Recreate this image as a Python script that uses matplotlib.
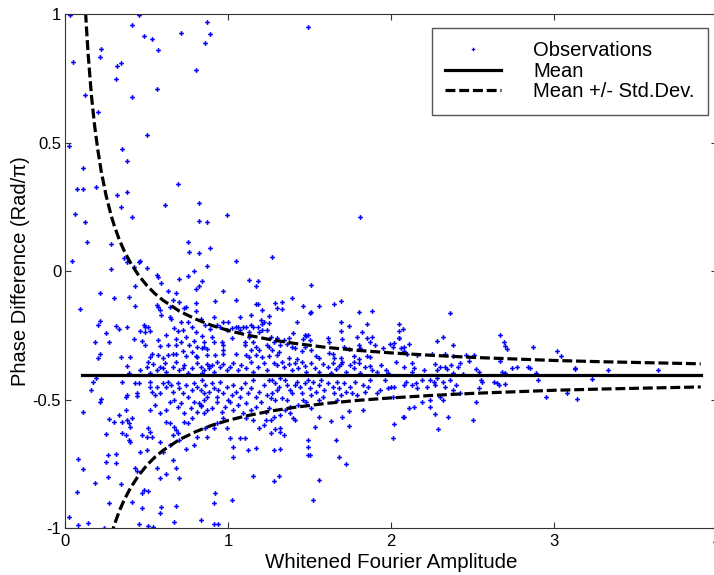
import numpy as np
import matplotlib
matplotlib.use('Agg')
import matplotlib.pyplot as plt

plt.rcParams['font.family'] = ['Liberation Sans', 'DejaVu Sans']
plt.rcParams['axes.unicode_minus'] = False

# observations (amplitude, phase difference in rad/pi)
obs_top = [
    (0.03, 0.997), (0.05, 0.816), (0.12, 0.687), (0.02, 0.488), (0.11, 0.40), (0.07, 0.319),
    (0.11, 0.321), (0.06, 0.222), (0.12, 0.192), (0.13, 0.114), (0.04, 0.041), (0.20, 0.621),
    (0.19, 0.329), (0.22, 0.866), (0.21, 0.833), (0.31, 0.749), (0.32, 0.80), (0.34, 0.812),
    (0.41, 0.96), (0.45, 0.996), (0.48, 0.917), (0.53, 0.905), (0.57, 0.861), (0.41, 0.679),
    (0.56, 0.708), (0.50, 0.532), (0.71, 0.927), (0.80, 0.782), (0.87, 0.97), (0.89, 0.925),
    (0.86, 0.89), (0.35, 0.477), (0.38, 0.43), (0.32, 0.297), (0.38, 0.31), (0.34, 0.251),
    (0.41, 0.21), (0.28, 0.106), (0.28, 0.008), (0.36, 0.052), (0.38, 0.037), (0.42, 0.018),
    (0.45, 0.035), (0.46, 0.041), (0.50, 0.012), (0.61, 0.259), (0.69, 0.339), (0.82, 0.265),
    (0.82, 0.196), (0.87, 0.191), (0.75, 0.113), (0.76, 0.074), (0.82, 0.07), (0.89, 0.09),
    (0.99, 0.22), (1.05, 0.039), (0.87, 0.019), (0.79, 0.0), (0.75, -0.02), (0.70, -0.03),
    (0.56, -0.015), (0.57, -0.023), (0.59, -0.044), (0.43, -0.057), (0.84, -0.038), (0.82, -0.057),
    (1.49, 0.949), (1.81, 0.21), (1.27, 0.057), (1.51, -0.052), (2.36, -0.161),
]

obs_left_upper = [
    (1.13, -0.032), (1.18, -0.037), (1.17, -0.059), (0.21, -0.086), (0.30, -0.102), (0.39, -0.099),
    (0.43, -0.135), (0.09, -0.147), (0.56, -0.131), (0.57, -0.14), (0.58, -0.151), (0.59, -0.17),
    (0.63, -0.077), (0.68, -0.083), (0.66, -0.112), (0.64, -0.138), (0.70, -0.118), (0.74, -0.138),
    (0.73, -0.144), (0.80, -0.122), (0.80, -0.153), (0.80, -0.068), (0.92, -0.115), (0.97, -0.077),
    (1.05, -0.112), (1.07, -0.177), (1.14, -0.17), (1.17, -0.126), (1.18, -0.126), (1.21, -0.151),
    (1.25, -0.173), (0.21, -0.194), (0.20, -0.208), (0.25, -0.242), (0.31, -0.213), (0.33, -0.224),
    (0.38, -0.216), (0.48, -0.209), (0.49, -0.216), (0.51, -0.216), (0.46, -0.233), (0.49, -0.235),
    (0.52, -0.234), (0.18, -0.274), (0.27, -0.277), (0.42, -0.264), (0.47, -0.27), (0.49, -0.288),
    (0.57, -0.269), (0.58, -0.291), (0.62, -0.246), (0.63, -0.285), (0.64, -0.177), (0.65, -0.187),
    (0.67, -0.22), (0.68, -0.265), (0.68, -0.287), (0.69, -0.233), (0.71, -0.196), (0.72, -0.229),
    (0.71, -0.274), (0.74, -0.255), (0.75, -0.199), (0.76, -0.285), (0.78, -0.216), (0.79, -0.272),
    (0.80, -0.235), (0.81, -0.294), (0.83, -0.185), (0.84, -0.251), (0.85, -0.294), (0.85, -0.274),
    (0.86, -0.209), (0.87, -0.301), (0.89, -0.226), (0.90, -0.255), (0.91, -0.179), (0.91, -0.274),
    (0.93, -0.209), (0.95, -0.216), (0.97, -0.196), (0.96, -0.274), (0.97, -0.285), (0.99, -0.229),
    (1.00, -0.199), (1.02, -0.261), (1.02, -0.222), (1.05, -0.216), (1.06, -0.216), (1.07, -0.229),
    (1.09, -0.216), (1.10, -0.274), (1.10, -0.287), (1.11, -0.216), (1.13, -0.235), (1.13, -0.255),
    (1.14, -0.209), (1.15, -0.218), (1.15, -0.274), (1.17, -0.294), (1.18, -0.216), (1.19, -0.235),
    (1.20, -0.19), (1.21, -0.207), (1.21, -0.229), (1.22, -0.198), (1.24, -0.229), (1.24, -0.287),
    (1.25, -0.294), (1.25, -0.203), (0.21, -0.32), (0.20, -0.339), (0.34, -0.333), (0.40, -0.333),
    (0.52, -0.333), (0.53, -0.323), (0.57, -0.326), (0.60, -0.339), (0.63, -0.326), (0.66, -0.32),
    (0.68, -0.323), (0.72, -0.31), (0.74, -0.33), (0.78, -0.313), (0.80, -0.329), (0.81, -0.333),
    (0.84, -0.30), (0.87, -0.327), (0.92, -0.325), (0.97, -0.307), (0.97, -0.323), (1.05, -0.32),
    (1.11, -0.326), (1.13, -0.333), (1.14, -0.307), (1.17, -0.326), (1.19, -0.307), (1.21, -0.333),
    (1.25, -0.33),
]

obs_left_lower = [
    (0.38, -0.368), (0.39, -0.397), (0.50, -0.374), (0.51, -0.351), (0.54, -0.361), (0.56, -0.384),
    (0.58, -0.371), (0.61, -0.355), (0.62, -0.39), (0.66, -0.371), (0.68, -0.351), (0.70, -0.384),
    (0.73, -0.364), (0.75, -0.394), (0.78, -0.377), (0.81, -0.358), (0.83, -0.374), (0.84, -0.397),
    (0.87, -0.361), (0.88, -0.377), (0.91, -0.39), (0.93, -0.351), (0.95, -0.371), (0.97, -0.361),
    (0.99, -0.384), (1.01, -0.374), (1.03, -0.355), (1.06, -0.384), (1.08, -0.364), (1.11, -0.377),
    (1.14, -0.351), (1.15, -0.39), (1.18, -0.371), (1.22, -0.358), (1.24, -0.384), (0.88, -0.368),
    (0.90, -0.364), (0.85, -0.384), (0.72, -0.377), (0.60, -0.377), (0.52, -0.397), (0.46, -0.384),
    (0.17, -0.429), (0.16, -0.462), (0.19, -0.416), (0.35, -0.429), (0.43, -0.436), (0.45, -0.433),
    (0.37, -0.49), (0.38, -0.481), (0.44, -0.475), (0.44, -0.485), (0.21, -0.507), (0.22, -0.498),
    (0.52, -0.429), (0.52, -0.449), (0.53, -0.468), (0.56, -0.449), (0.58, -0.475), (0.55, -0.481),
    (0.60, -0.436), (0.62, -0.449), (0.63, -0.429), (0.65, -0.442), (0.66, -0.468), (0.69, -0.436),
    (0.70, -0.455), (0.72, -0.475), (0.74, -0.442), (0.75, -0.488), (0.78, -0.462), (0.79, -0.436),
    (0.81, -0.449), (0.83, -0.462), (0.84, -0.423), (0.85, -0.475), (0.86, -0.442), (0.87, -0.488),
    (0.88, -0.468), (0.90, -0.436), (0.91, -0.455), (0.93, -0.488), (0.94, -0.462), (0.95, -0.429),
    (0.97, -0.475), (0.99, -0.449), (1.00, -0.501), (1.02, -0.481), (1.03, -0.442), (1.05, -0.468),
    (1.07, -0.488), (1.08, -0.455), (1.10, -0.436), (1.12, -0.475), (1.14, -0.455), (1.15, -0.423),
    (1.17, -0.488), (1.19, -0.468), (1.22, -0.442), (1.24, -0.481), (1.25, -0.423), (0.52, -0.54),
    (0.55, -0.52), (0.58, -0.553), (0.62, -0.54), (0.64, -0.507), (0.67, -0.501), (0.69, -0.527),
    (0.71, -0.514), (0.73, -0.553), (0.77, -0.533), (0.79, -0.507), (0.81, -0.546), (0.83, -0.52),
    (0.85, -0.501), (0.87, -0.54), (0.90, -0.533), (0.93, -0.507), (0.96, -0.546), (0.98, -0.527),
    (1.01, -0.507), (1.03, -0.54), (1.06, -0.52), (1.09, -0.553), (1.11, -0.514), (1.14, -0.54),
    (1.17, -0.527), (1.20, -0.507), (1.23, -0.546), (1.25, -0.533), (0.82, -0.514), (0.83, -0.524),
    (0.85, -0.553), (0.11, -0.549), (0.27, -0.575), (0.30, -0.585), (0.33, -0.559), (0.35, -0.585),
    (0.37, -0.54), (0.38, -0.578), (0.39, -0.591), (0.40, -0.604), (0.41, -0.572), (0.35, -0.63),
    (0.37, -0.637), (0.39, -0.656), (0.40, -0.663), (0.25, -0.633), (0.47, -0.637), (0.51, -0.611),
    (0.52, -0.624), (0.50, -0.643), (0.53, -0.643), (0.62, -0.585), (0.64, -0.591), (0.67, -0.604),
    (0.68, -0.617), (0.66, -0.637), (0.69, -0.63), (0.73, -0.585), (0.75, -0.591), (0.78, -0.572),
    (0.79, -0.676), (0.81, -0.643), (0.86, -0.611), (0.87, -0.643), (0.91, -0.611), (0.93, -0.591),
    (0.97, -0.572), (0.99, -0.611), (1.01, -0.65), (1.03, -0.682), (1.03, -0.721), (1.07, -0.65),
    (1.10, -0.65), (1.12, -0.695), (1.17, -0.689), (1.19, -0.611), (1.22, -0.598), (1.15, -0.578),
    (1.11, -0.572), (1.23, -0.578), (0.08, -0.732), (0.11, -0.769), (0.26, -0.715), (0.25, -0.741),
    (0.31, -0.712), (0.31, -0.747), (0.46, -0.703), (0.50, -0.695), (0.58, -0.663), (0.60, -0.702),
    (0.64, -0.676), (0.70, -0.656), (0.74, -0.693), (0.66, -0.734), (0.68, -0.767), (0.56, -0.767),
    (0.58, -0.805), (0.62, -0.79), (0.70, -0.805), (0.43, -0.764), (0.44, -0.777), (0.26, -0.799),
    (0.18, -0.825), (0.34, -0.827), (0.48, -0.851), (0.47, -0.864), (0.51, -0.855), (0.07, -0.857),
    (0.27, -0.903), (0.41, -0.896), (0.47, -0.922), (0.59, -0.916), (0.68, -0.913), (0.58, -0.942),
    (0.83, -0.968), (0.91, -0.903), (0.92, -0.864), (1.02, -0.89), (1.15, -0.795), (0.02, -0.957),
    (0.08, -0.987), (0.14, -0.978), (0.24, -0.998), (0.45, -0.984), (0.51, -0.99), (0.54, -0.996),
    (0.67, -0.974), (0.91, -0.984), (0.94, -0.984),
]

obs_mid_upper = [
    (1.29, -0.122), (1.30, -0.143), (1.33, -0.118), (1.33, -0.146), (1.39, -0.102), (1.46, -0.137),
    (1.50, -0.163), (1.51, -0.159), (1.56, -0.134), (1.65, -0.126), (1.69, -0.117), (1.80, -0.159),
    (1.88, -0.154), (1.69, -0.198), (1.74, -0.212), (1.85, -0.205), (2.05, -0.205), (2.07, -0.226),
    (2.05, -0.231), (1.69, -0.233), (1.42, -0.198), (1.40, -0.239), (1.47, -0.247), (1.48, -0.252),
    (1.49, -0.247), (1.50, -0.268), (1.46, -0.264), (1.37, -0.261), (1.34, -0.268), (1.30, -0.261),
    (1.26, -0.255), (1.28, -0.274), (1.32, -0.287), (1.36, -0.281), (1.39, -0.294), (1.41, -0.30),
    (1.45, -0.31), (1.47, -0.294), (1.51, -0.307), (1.54, -0.329), (1.56, -0.339), (1.61, -0.261),
    (1.62, -0.277), (1.62, -0.317), (1.64, -0.32), (1.65, -0.336), (1.70, -0.264), (1.69, -0.339),
    (1.71, -0.296), (1.74, -0.304), (1.79, -0.257), (1.80, -0.285), (1.81, -0.30), (1.82, -0.238),
    (1.85, -0.26), (1.87, -0.274), (1.88, -0.256), (1.90, -0.285), (1.95, -0.298), (1.99, -0.283),
    (2.01, -0.294), (2.02, -0.278), (2.05, -0.261), (2.05, -0.261), (2.06, -0.298), (2.08, -0.296),
    (2.11, -0.281), (2.08, -0.31), (1.77, -0.329), (1.80, -0.343), (1.85, -0.329), (1.87, -0.333),
    (1.30, -0.326), (1.27, -0.307), (1.31, -0.313), (1.37, -0.339), (1.42, -0.342), (2.28, -0.27),
    (2.32, -0.257), (2.38, -0.285), (2.46, -0.326), (2.51, -0.326), (2.38, -0.329), (2.33, -0.32),
    (2.25, -0.323), (2.16, -0.327), (2.10, -0.32),
]

obs_mid_lower = [
    (1.28, -0.358), (1.30, -0.364), (1.33, -0.351), (1.34, -0.371), (1.37, -0.361), (1.39, -0.384),
    (1.41, -0.355), (1.43, -0.377), (1.45, -0.351), (1.47, -0.368), (1.48, -0.39), (1.51, -0.358),
    (1.53, -0.377), (1.56, -0.39), (1.58, -0.361), (1.61, -0.371), (1.63, -0.397), (1.64, -0.358),
    (1.66, -0.381), (1.68, -0.368), (1.70, -0.351), (1.72, -0.39), (1.75, -0.364), (1.77, -0.377),
    (1.80, -0.355), (1.81, -0.397), (1.84, -0.374), (1.87, -0.368), (1.88, -0.384), (1.91, -0.39),
    (1.94, -0.364), (1.97, -0.384), (1.98, -0.394), (2.08, -0.371), (2.14, -0.377), (2.13, -0.39),
    (2.20, -0.386), (2.27, -0.362), (2.28, -0.384), (2.30, -0.371), (2.33, -0.374), (2.34, -0.381),
    (2.37, -0.364), (2.38, -0.397), (2.41, -0.374), (2.42, -0.358), (2.13, -0.358), (2.03, -0.351),
    (1.77, -0.351), (1.69, -0.361), (1.27, -0.423), (1.29, -0.436), (1.30, -0.462), (1.31, -0.449),
    (1.27, -0.475), (1.32, -0.416), (1.35, -0.423), (1.36, -0.442), (1.38, -0.462), (1.39, -0.475),
    (1.41, -0.442), (1.42, -0.429), (1.44, -0.449), (1.45, -0.475), (1.47, -0.436), (1.49, -0.423),
    (1.50, -0.455), (1.51, -0.481), (1.52, -0.429), (1.54, -0.468), (1.56, -0.442), (1.57, -0.423),
    (1.58, -0.488), (1.59, -0.462), (1.61, -0.436), (1.64, -0.449), (1.65, -0.475), (1.67, -0.429),
    (1.68, -0.455), (1.69, -0.481), (1.71, -0.436), (1.72, -0.468), (1.75, -0.449), (1.76, -0.475),
    (1.78, -0.429), (1.79, -0.481), (1.83, -0.442), (1.84, -0.468), (1.86, -0.449), (1.87, -0.423),
    (1.91, -0.475), (1.93, -0.462), (1.96, -0.423), (1.98, -0.455), (2.00, -0.449), (2.01, -0.488),
    (2.02, -0.449), (2.08, -0.442), (2.09, -0.429), (2.13, -0.442), (2.15, -0.436), (2.16, -0.455),
    (2.19, -0.423), (2.22, -0.449), (2.24, -0.423), (2.26, -0.429), (2.27, -0.442), (2.28, -0.416),
    (2.32, -0.429), (2.33, -0.449), (2.36, -0.423), (2.38, -0.462), (2.40, -0.442), (2.42, -0.475),
    (1.26, -0.494), (1.29, -0.501), (1.33, -0.494), (1.36, -0.501), (1.38, -0.527), (1.43, -0.52),
    (1.46, -0.501), (1.48, -0.507), (1.51, -0.533), (1.56, -0.501), (1.67, -0.501), (1.83, -0.54),
    (2.11, -0.533), (2.14, -0.527), (2.19, -0.507), (2.24, -0.501), (2.24, -0.527), (2.30, -0.488),
    (2.32, -0.501), (1.26, -0.578), (1.28, -0.565), (1.32, -0.559), (1.35, -0.54), (1.38, -0.553),
    (1.40, -0.572), (1.41, -0.578), (1.56, -0.565), (1.63, -0.582), (1.70, -0.568), (1.74, -0.543),
    (2.07, -0.568), (2.08, -0.568), (2.27, -0.555), (2.35, -0.565), (2.50, -0.58), (2.02, -0.594),
    (1.53, -0.607), (1.29, -0.615), (1.32, -0.611), (1.34, -0.637), (1.32, -0.624), (1.26, -0.63),
    (1.49, -0.656), (1.49, -0.685), (1.49, -0.715), (1.50, -0.715), (1.66, -0.656), (1.74, -0.602),
    (2.01, -0.65), (2.29, -0.613), (1.28, -0.695), (1.32, -0.691), (1.68, -0.724), (1.72, -0.748),
    (1.31, -0.796), (1.28, -0.816), (1.56, -0.812), (1.52, -0.89),
]

obs_right = [
    (2.67, -0.248), (2.69, -0.277), (2.70, -0.29), (2.71, -0.304), (2.87, -0.296), (3.02, -0.311),
    (3.04, -0.33), (2.48, -0.349), (2.67, -0.348), (2.52, -0.38), (2.54, -0.39), (2.68, -0.39),
    (2.70, -0.395), (2.74, -0.375), (2.77, -0.372), (2.84, -0.371), (2.85, -0.375), (2.89, -0.397),
    (2.44, -0.40), (2.55, -0.423), (2.56, -0.432), (2.63, -0.431), (2.65, -0.436), (2.66, -0.442),
    (2.70, -0.44), (2.90, -0.423), (3.13, -0.378), (3.13, -0.382), (3.23, -0.42), (3.33, -0.385),
    (3.64, -0.385), (2.52, -0.509), (2.95, -0.489), (3.08, -0.475), (3.14, -0.497), (2.54, -0.453),
]

mean_amp = [0.1, 3.9]
mean_phase = -0.405

# standard deviation of the phase difference versus amplitude
std_amp = [0.10, 0.11, 0.12, 0.13, 0.14, 0.15, 0.16, 0.18, 0.20, 0.22, 0.25, 0.28, 0.30, 0.33,
           0.36, 0.40, 0.45, 0.50, 0.55, 0.60, 0.70, 0.80, 0.90, 1.00, 1.10, 1.25, 1.40, 1.60,
           1.80, 2.00, 2.25, 2.50, 2.75, 3.00, 3.30, 3.60, 3.90]
std_dev = [1.75, 1.59, 1.46, 1.35, 1.25, 1.17, 1.09, 0.97, 0.875, 0.795, 0.70, 0.625, 0.583, 0.53,
           0.486, 0.438, 0.389, 0.35, 0.318, 0.292, 0.25, 0.219, 0.194, 0.175, 0.159, 0.14, 0.125, 0.109,
           0.097, 0.0875, 0.078, 0.07, 0.064, 0.058, 0.053, 0.049, 0.045]

obs = np.array(obs_top + obs_left_upper + obs_left_lower + obs_mid_upper + obs_mid_lower + obs_right)
std_amp = np.array(std_amp)
std_dev = np.array(std_dev)

fig = plt.figure(figsize=(7.14, 5.75), dpi=100)
ax = fig.add_axes([0.0915, 0.0812, 0.9127, 0.894])

ax.plot(obs[:, 0], obs[:, 1], linestyle='none', marker='P', ms=3.4, mew=0,
        color='blue', label='Observations')
ax.plot(mean_amp, [mean_phase, mean_phase], color='black', lw=2.3, label='Mean')
ax.plot(std_amp, mean_phase + std_dev, color='black', lw=2.3, dashes=(3.1, 1.2),
        label='Mean +/- Std.Dev.')
ax.plot(std_amp, mean_phase - std_dev, color='black', lw=2.3, dashes=(3.1, 1.2))

ax.set_xlim(0, 4)
ax.set_ylim(-1, 1)
ax.set_xticks([0, 1, 2, 3, 4])
ax.set_yticks([-1, -0.5, 0, 0.5, 1])
ax.set_yticklabels(['-1', '-0.5', '0', '0.5', '1'])
ax.tick_params(direction='in', top=True, right=True, length=4.5, width=0.8,
               color='#333333', labelsize=12)
ax.tick_params(axis='x', pad=4)
ax.tick_params(axis='y', pad=3)
for sp in ax.spines.values():
    sp.set_color('#333333')
    sp.set_linewidth(0.8)

ax.set_xlabel('Whitened Fourier Amplitude', fontsize=14.8, labelpad=3)
ax.set_ylabel('Phase Difference (Rad/π)', fontsize=14.5, labelpad=2)

leg = ax.legend(loc='upper left', bbox_to_anchor=(0.562, 0.973), borderaxespad=0,
                fontsize=14.5, numpoints=1, handlelength=2.8, handletextpad=1.6,
                labelspacing=0.08, borderpad=0.65, fancybox=False, framealpha=1)
leg.get_frame().set_edgecolor('#555555')
leg.get_frame().set_linewidth(1.0)
leg.legend_handles[0].set_markersize(2.6)

fig.savefig('out.png', dpi=100)
